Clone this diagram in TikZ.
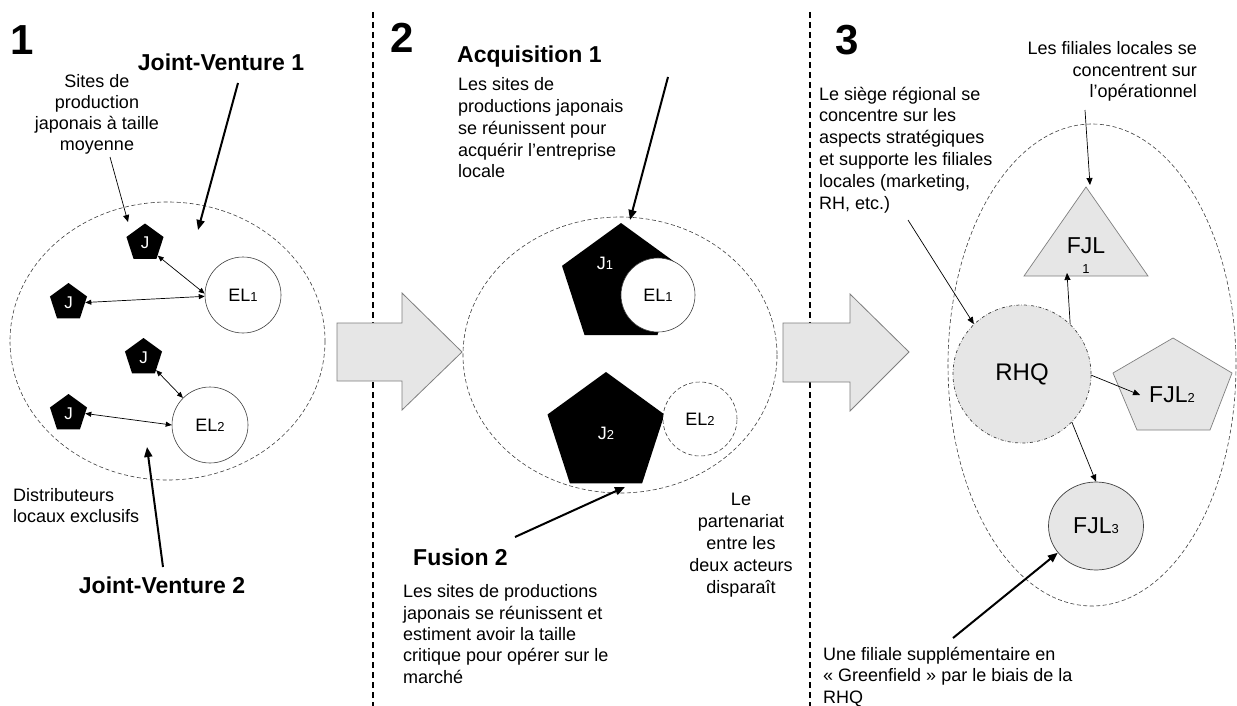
\documentclass[tikz,border=0pt]{standalone}
\usepackage{fontspec}
\setmainfont{Liberation Sans}
\usetikzlibrary{shapes.geometric,arrows.meta}
\definecolor{shade}{HTML}{E6E6E6}
\definecolor{edge}{HTML}{7F7F7F}
\definecolor{rim}{HTML}{404040}
\newcommand{\dig}[1]{{\fontsize{13}{13}\selectfont #1}}
\tikzset{
  note/.style={font=\fontsize{18}{21.7}\selectfont, inner sep=0pt},
  title/.style={font=\bfseries\fontsize{23}{27}\selectfont, inner sep=0pt},
  bignum/.style={font=\bfseries\fontsize{42}{42}\selectfont, inner sep=0pt},
  jsite/.style={regular polygon, regular polygon sides=5, fill=black, text=white, inner sep=0pt, font=\fontsize{17}{17}\selectfont},
  local/.style={circle, draw=rim, line width=0.6pt, fill=white, minimum size=76pt, inner sep=0pt, font=\fontsize{18}{18}\selectfont},
  group/.style={draw=rim, dash pattern=on 4pt off 2.5pt, line width=0.6pt},
  divider/.style={line width=1.3pt, dash pattern=on 6pt off 4pt},
  bigarrow/.style={fill=shade, draw=edge, line width=0.8pt},
  link/.style={{Triangle[length=6pt,width=5pt]}-{Triangle[length=6pt,width=5pt]}, line width=0.7pt},
  pointer/.style={-{Triangle[length=7pt,width=6pt]}, line width=0.7pt},
  strong/.style={-{Triangle[length=10pt,width=8pt]}, line width=2pt},
}
\begin{document}
\begin{tikzpicture}[x=1pt, y=-1pt]
\path[fill=white] (0,0) rectangle (1237,706);
\useasboundingbox (0,0) rectangle (1237,706);
\draw[divider] (373,12) -- (373,706); %left divider
\draw[divider] (810,12) -- (810,706); %right divider
% step 1 (multi-line texts sit on their last baseline)
\node[bignum, anchor=base west] (num1) at (10,55) {1};
\node[title, anchor=base] (jv1) at (221,71) {Joint-Venture 1};
\node[note, font=\fontsize{18}{21.3}\selectfont, align=center, anchor=base] (sites) at (97,151) {Sites de\\production\\japonais à taille\\moyenne};
\node[note, font=\fontsize{18}{21}\selectfont, align=left, anchor=base west] (distrib) at (13,522) {Distributeurs\\locaux exclusifs};
\node[title, anchor=base] (jv2) at (162,593) {Joint-Venture 2};
\draw[group] (167.5,341) ellipse [x radius=157.5, y radius=139]; %joint-ventures
\node[jsite, minimum size=39pt] (ja1) at (145,243) {J};
\node[jsite, minimum size=39pt] (jb1) at (68.5,302.5) {J};
\node[jsite, minimum size=39pt] (ja2) at (143.5,357.5) {J};
\node[jsite, minimum size=39pt] (jb2) at (68.5,413.5) {J};
\node[local] (el1) at (243,295) {EL\dig{1}};
\node[local] (el2) at (210,425) {EL\dig{2}};
\draw[link] (ja1.-45) -- (el1.178);
\draw[link] (jb1.0) -- (el1.182);
\draw[link] (ja2.-45) -- (el2.135);
\draw[link] (jb2.0) -- (el2.180);
\coordinate (sitesfrom) at (110,157);
\coordinate (sitestip) at (128,222);
\coordinate (jv1from) at (238,83);
\coordinate (jv1tip) at (198,230);
\coordinate (jv2from) at (163,567);
\coordinate (jv2tip) at (147,447);
\draw[pointer] (sitesfrom) -- (sitestip);
\draw[strong] (jv1from) -- (jv1tip);
\draw[strong] (jv2from) -- (jv2tip);
% step 2
\node[bignum, anchor=base west] (num2) at (390,53) {2};
\node[title, anchor=base west] (acq) at (457,63) {Acquisition 1};
\node[note, font=\fontsize{18}{21.8}\selectfont, align=left, anchor=base west] (acqtext) at (458,178) {Les sites de\\productions japonais\\se réunissent pour\\acquérir l’entreprise\\locale};
\node[title, anchor=base west] (fus) at (413,565) {Fusion 2};
\node[note, font=\fontsize{18}{21.3}\selectfont, align=left, anchor=base west] (fustext) at (403,683) {Les sites de productions\\japonais se réunissent et\\estiment avoir la taille\\critique pour opérer sur le\\marché};
\node[note, font=\fontsize{18}{22}\selectfont, align=center, anchor=base] (partner) at (741,593) {Le\\partenariat\\entre les\\deux acteurs\\disparaît};
\draw[group] (620,355) ellipse [x radius=157, y radius=138]; %acquisition and fusion
\node[jsite, minimum size=124pt] (jbig1) at (621,285) {};
\node[local, minimum size=74pt] (elbig1) at (658,295) {EL\dig{1}};
\node[text=white, inner sep=0pt, font=\fontsize{18}{18}\selectfont] (j1name) at (605,263) {J\dig{1}};
\node[jsite, minimum size=123pt, font=\fontsize{18}{18}\selectfont] (jbig2) at (606,433.5) {J\dig{2}};
\node[local, group, minimum size=74pt] (elbig2) at (700,419) {EL\dig{2}};
\coordinate (acqfrom) at (668,77);
\coordinate (acqtip) at (630,220);
\coordinate (fusfrom) at (515,537);
\coordinate (fustip) at (625,487);
\draw[strong] (acqfrom) -- (acqtip);
\draw[strong] (fusfrom) -- (fustip);
% step 3
\node[bignum, anchor=base west] (num3) at (835,55) {3};
\node[note, font=\fontsize{18}{21.5}\selectfont, align=right, anchor=base east] (filtext) at (1197,98) {Les filiales locales se\\concentrent sur\\l’opérationnel};
\node[note, font=\fontsize{18}{21.8}\selectfont, align=left, anchor=base west] (siege) at (819,209) {Le siège régional se\\concentre sur les\\aspects stratégiques\\et supporte les filiales\\locales (marketing,\\RH, etc.)};
\node[note, font=\fontsize{18}{21.5}\selectfont, align=left, anchor=base west] (green) at (823,703) {Une filiale supplémentaire en\\« Greenfield » par le biais de la\\RHQ};
\draw[group] (1092,365) ellipse [x radius=144, y radius=241]; %regional headquarters
\coordinate (f1top) at (1086,187);
\coordinate (f1right) at (1148,276);
\coordinate (f1left) at (1024,276);
\draw[fill=shade, draw=edge, line width=0.7pt] (f1top) -- (f1right) -- (f1left) -- cycle; %FJL1 triangle
\node[align=center, anchor=base, inner sep=0pt, font=\fontsize{23}{20}\selectfont] (fjl1) at (1086,273) {FJL\\\dig{1}};
\draw[fill=shade, draw=edge, line width=0.7pt] (1173,338) -- (1232,373) -- (1210,430) -- (1137,430) -- (1113,373) -- cycle; %FJL2 pentagon
\node[inner sep=0pt, font=\fontsize{23}{23}\selectfont] (fjl2) at (1172,395) {FJL\dig{2}};
\node[circle, fill=shade, draw=rim, dash dot, line width=0.7pt, minimum size=138pt, inner sep=0pt, font=\fontsize{24}{24}\selectfont] (rhq) at (1022,374) {RHQ};
\node[ellipse, fill=shade, draw=rim, line width=0.7pt, minimum width=95pt, minimum height=88pt, inner sep=0pt, font=\fontsize{23}{23}\selectfont] (fjl3) at (1096,526) {FJL\dig{3}};
\coordinate (filfrom) at (1085,110);
\coordinate (filtip) at (1090,185);
\coordinate (siegefrom) at (908,220);
\coordinate (f1base) at (1067,273);
\coordinate (greenfrom) at (953,638);
\draw[pointer] (filfrom) -- (filtip);
\draw[pointer] (siegefrom) -- (rhq.134);
\draw[pointer] (rhq.46) -- (f1base);
\draw[pointer] (rhq.-1) -- ([xshift=-9pt]fjl2.west);
\draw[pointer] (rhq.-44) -- (fjl3.north);
\draw[strong] (greenfrom) -- (fjl3.215);
% block arrows
\draw[bigarrow] (337,323) -- (402,323) -- (402,293) -- (462,352) -- (402,410) -- (402,381) -- (337,381) -- cycle;
\draw[bigarrow] (783,323) -- (850,323) -- (850,294) -- (909,352) -- (850,411) -- (850,382) -- (783,382) -- cycle;
\end{tikzpicture}
\end{document}
